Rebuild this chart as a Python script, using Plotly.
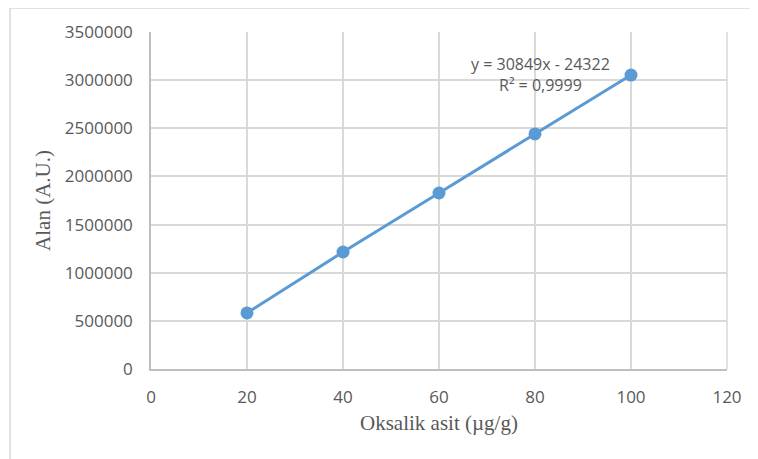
import plotly.graph_objects as go

x_vals = [20, 40, 60, 80, 100]
y_vals = [582000, 1215000, 1828000, 2441000, 3053000]
x_ticks = [0, 20, 40, 60, 80, 100, 120]
y_ticks = [0, 500000, 1000000, 1500000, 2000000, 2500000, 3000000, 3500000]
eq_text = "y = 30849x - 24322<br>R² = 0,9999"

blue = "#5B9BD5"
tick_font = dict(family="Open Sans", size=17, color="#595959")
title_font = dict(family="Liberation Serif", size=21, color="#595959")

fig = go.Figure()
fig.add_trace(go.Scatter(
    x=x_vals, y=y_vals, mode="lines+markers",
    line=dict(color=blue, width=3),
    marker=dict(color=blue, size=13),
    showlegend=False,
))

fig.update_layout(
    width=750, height=451,
    margin=dict(l=143, r=31, t=24, b=90),
    paper_bgcolor="white", plot_bgcolor="white",
    xaxis=dict(
        range=[0, 120], tickvals=x_ticks, ticktext=[str(v) for v in x_ticks],
        showgrid=True, gridcolor="#d9d9d9", gridwidth=1.5,
        showline=True, linecolor="#bfbfbf", linewidth=1.5,
        zeroline=False, tickfont=tick_font, ticks="", ticklabelstandoff=12,
        title=dict(text="Oksalik asit (µg/g)", font=title_font, standoff=8),
    ),
    yaxis=dict(
        range=[0, 3500000], tickvals=y_ticks, ticktext=[str(v) for v in y_ticks],
        showgrid=True, gridcolor="#d9d9d9", gridwidth=1.5,
        showline=True, linecolor="#bfbfbf", linewidth=1.5,
        zeroline=False, tickfont=tick_font, ticks="", ticklabelstandoff=13,
        title=dict(text="Alan (A.U.)", font=title_font, standoff=8),
    ),
    shapes=[
        dict(type="rect", xref="paper", yref="paper",
             x0=-0.2448, x1=1.2, y0=-0.35, y1=1.0712,
             line=dict(color="#d9d9d9", width=1.5), layer="below"),
        dict(type="line", xref="paper", yref="paper",
             x0=1, x1=1, y0=0, y1=1,
             line=dict(color="#d9d9d9", width=1.5)),
    ],
    annotations=[
        dict(text=eq_text, xref="paper", yref="paper",
             x=(540 - 151) / 576, y=(369 - 75) / 337,
             xanchor="center", yanchor="middle", showarrow=False,
             align="center", font=dict(family="Open Sans", size=16, color="#595959")),
    ],
)

fig.write_html("out.html")
